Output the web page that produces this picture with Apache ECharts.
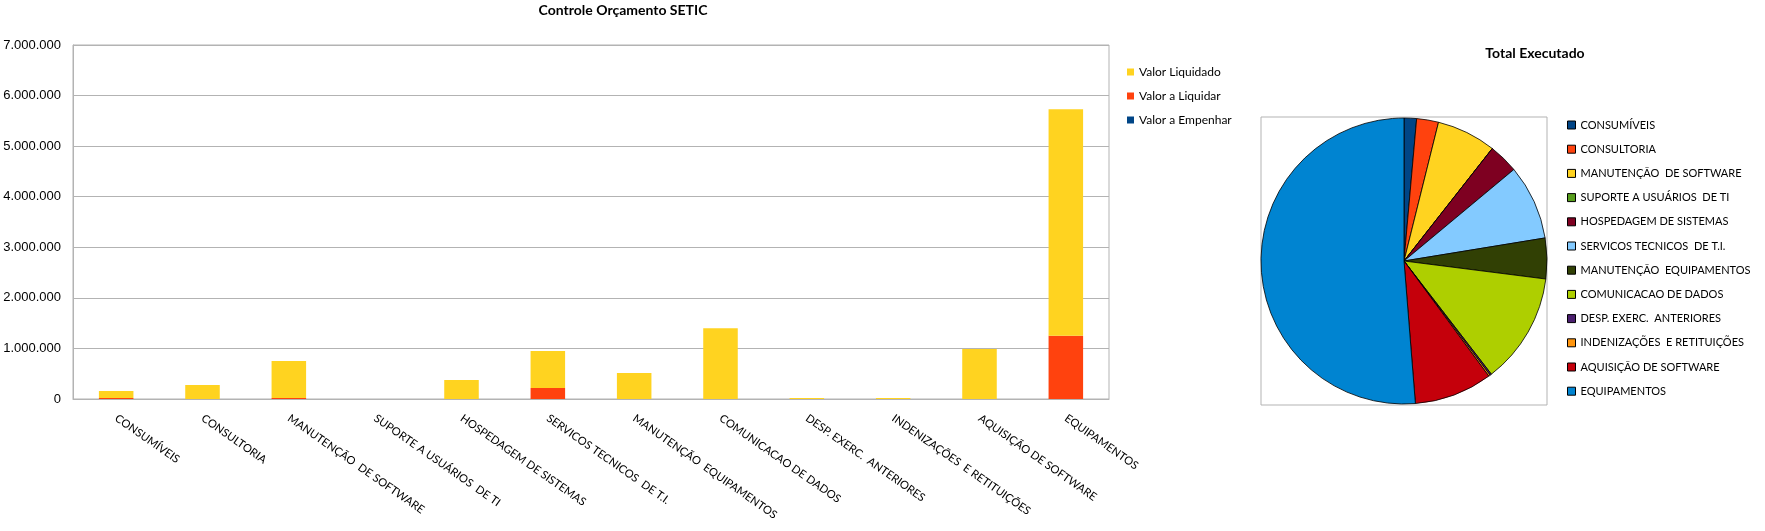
<!DOCTYPE html>
<html><head><meta charset="utf-8">
<script src="https://cdn.jsdelivr.net/npm/echarts@6/dist/echarts.min.js"></script>
<style>html,body{margin:0;padding:0;background:#fff}#c{width:1765px;height:531px}</style>
</head><body><div id="c"></div>
<script>
// ---- data ----
const categories = ['CONSUMÍVEIS','CONSULTORIA','MANUTENÇÃO  DE SOFTWARE','SUPORTE A USUÁRIOS  DE TI','HOSPEDAGEM DE SISTEMAS','SERVICOS TECNICOS  DE T.I.','MANUTENÇÃO  EQUIPAMENTOS','COMUNICACAO DE DADOS','DESP. EXERC.  ANTERIORES','INDENIZAÇÕES  E RETITUIÇÕES','AQUISIÇÃO DE SOFTWARE','EQUIPAMENTOS'];
const valorALiquidar = [20000, 0, 20000, 0, 0, 217000, 0, 0, 0, 0, 0, 1250000];
const valorLiquidado = [138000, 276000, 730000, 0, 375000, 730000, 513000, 1400000, 20000, 20000, 987000, 4480000];
const valorAEmpenhar = [0, 0, 0, 0, 0, 0, 0, 0, 0, 0, 0, 0];
const totalExecutado = [158000, 276000, 750000, 0, 375000, 947000, 513000, 1400000, 20000, 20000, 987000, 5730000];
const yAxisMin = 0, yAxisMax = 7000000, yAxisStep = 1000000;
const seriesNames = ['Valor Liquidado','Valor a Liquidar','Valor a Empenhar'];
const seriesColors = ['#ffd320','#ff420e','#004586'];
const pieColors = ['#004586','#ff420e','#ffd320','#579d1c','#7e0021','#83caff','#314004','#aecf00','#4b1f6f','#ff950e','#c5000b','#0084d1'];

// ---- layout ----
const FONT = 'Lato, "Open Sans", sans-serif';
const pieCenter = [1404, 261];
const pieRadius = 143;
const fmt = v => String(v).replace(/\B(?=(\d{3})+(?!\d))/g, '.');

const chart = echarts.init(document.getElementById('c'), null, {renderer: 'canvas'});
chart.setOption({
  animation: false,
  backgroundColor: '#fff',
  title: [
    {text: 'Controle Orçamento SETIC', left: 618, top: -2, textAlign: 'center',
     textStyle: {fontFamily: FONT, fontSize: 14, fontWeight: 'bold', color: '#000'}},
    {text: 'Total Executado', left: 1530, top: 41, textAlign: 'center',
     textStyle: {fontFamily: FONT, fontSize: 14, fontWeight: 'bold', color: '#000'}}
  ],
  legend: [
    {data: seriesNames, orient: 'vertical', left: 1122, top: 60, itemWidth: 7, itemHeight: 7,
     itemGap: 10, icon: 'rect',
     textStyle: {fontFamily: FONT, fontSize: 12, color: '#000', lineHeight: 14}},
    {data: categories, orient: 'vertical', left: 1562, top: 113, itemWidth: 8, itemHeight: 8,
     itemGap: 10.2, icon: 'rect',
     itemStyle: {borderColor: '#000', borderWidth: 1},
     textStyle: {fontFamily: FONT, fontSize: 11, color: '#000', lineHeight: 14}}
  ],
  grid: {left: 73, right: 656, top: 45, bottom: 132, show: true, borderColor: '#b3b3b3', borderWidth: 1,
         containLabel: false, outerBoundsMode: 'none'},
  xAxis: {
    type: 'category', data: categories,
    axisLine: {lineStyle: {color: '#b3b3b3'}}, axisTick: {show: false},
    axisLabel: {interval: 0, rotate: -35, margin: 18, fontFamily: FONT, fontSize: 11.2, color: '#000'}
  },
  yAxis: {
    type: 'value', min: yAxisMin, max: yAxisMax, interval: yAxisStep,
    axisLine: {show: true, lineStyle: {color: '#b3b3b3'}}, axisTick: {show: false},
    splitLine: {lineStyle: {color: '#b3b3b3'}},
    axisLabel: {formatter: fmt, margin: 12, fontFamily: '"Liberation Sans", Arial, sans-serif', fontSize: 13, color: '#000'}
  },
  graphic: [{
    type: 'rect', shape: {x: pieCenter[0] - pieRadius, y: pieCenter[1] - pieRadius - 1, width: pieRadius * 2, height: pieRadius * 2 + 2},
    style: {fill: 'none', stroke: '#b3b3b3', lineWidth: 1}, z: -1
  }],
  series: [
    {name: seriesNames[1], type: 'bar', stack: 'a', data: valorALiquidar, barWidth: '40%', itemStyle: {color: seriesColors[1]}},
    {name: seriesNames[0], type: 'bar', stack: 'a', data: valorLiquidado, barWidth: '40%', itemStyle: {color: seriesColors[0]}},
    {name: seriesNames[2], type: 'bar', stack: 'a', data: valorAEmpenhar, barWidth: '40%', itemStyle: {color: seriesColors[2]}},
    {name: 'Total Executado', type: 'pie', center: pieCenter, radius: pieRadius, startAngle: 90, clockwise: true,
     label: {show: false}, labelLine: {show: false}, emphasis: {disabled: true},
     data: categories.map((c, i) => ({name: c, value: totalExecutado[i], itemStyle: {color: pieColors[i]}})),
     itemStyle: {borderColor: '#000', borderWidth: 0.8}}
  ]
});
</script></body></html>
